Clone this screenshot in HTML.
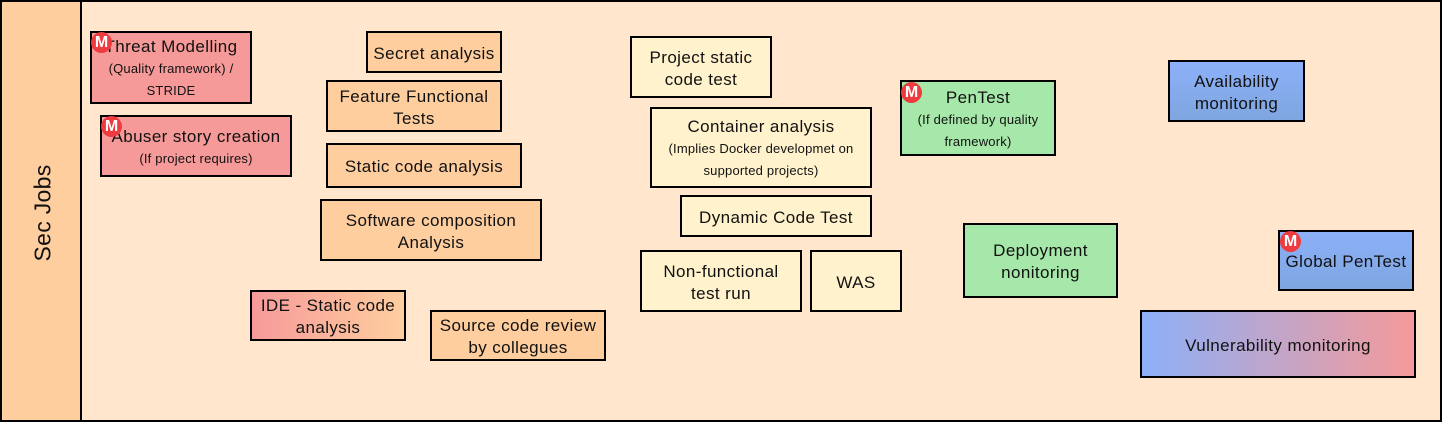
<!DOCTYPE html>
<html><head><meta charset="utf-8"><style>
*{margin:0;padding:0;box-sizing:border-box}
body{width:1442px;height:422px;background:#fff;position:relative;overflow:hidden;font-family:"Liberation Sans",Arial,sans-serif;color:#111}
.frame{position:absolute;left:0;top:0;width:1442px;height:422px;border:2px solid #000;background:#FFE6CC}
.band{position:absolute;left:0;top:0;width:82px;height:422px;background:#FFCE9F;border:2px solid #000}
.band span{position:absolute;left:41px;top:211px;transform:translate(-50%,-50%) rotate(-90deg);font-size:23px;white-space:nowrap;letter-spacing:0.3px}
.b{position:absolute;border:2px solid #000;display:flex;flex-direction:column;align-items:center;justify-content:center;text-align:center;font-size:17px;line-height:22px;letter-spacing:0.4px;padding-top:3px;white-space:nowrap}
.b small{font-size:13px;line-height:22px;letter-spacing:0.2px}
.r{background:#F69A99}.o{background:#FFCE9F}.y{background:#FFF2CC}.g{background:#A6E8A9}
.bl{background:linear-gradient(#8DB0F8,#7EA6E0)}
.m{position:absolute;width:21px;height:21px;border-radius:50%;background:#EE3B3F;color:#fff;font-weight:bold;font-size:16px;line-height:21px;text-align:center}
</style></head><body>
<div class="frame"></div>
<div class="band"><span>Sec Jobs</span></div>

<div class="b r" style="left:90px;top:31px;width:162px;height:73px">Threat Modelling<small>(Quality framework) /<br>STRIDE</small></div>
<div class="m" style="left:91px;top:32px">M</div>
<div class="b r" style="left:100px;top:115px;width:192px;height:62px">Abuser story creation<small>(If project requires)</small></div>
<div class="m" style="left:101px;top:116px">M</div>

<div class="b o" style="left:366px;top:31px;width:136px;height:42px">Secret analysis</div>
<div class="b o" style="left:326px;top:80px;width:176px;height:52px">Feature Functional<br>Tests</div>
<div class="b o" style="left:326px;top:143px;width:196px;height:45px">Static code analysis</div>
<div class="b o" style="left:320px;top:199px;width:222px;height:62px">Software composition<br>Analysis</div>
<div class="b" style="left:250px;top:290px;width:156px;height:51px;background:linear-gradient(90deg,#F69A99,#FFCE9F)">IDE - Static code<br>analysis</div>
<div class="b o" style="left:430px;top:310px;width:176px;height:51px">Source code review<br>by collegues</div>

<div class="b y" style="left:630px;top:36px;width:142px;height:62px">Project static<br>code test</div>
<div class="b y" style="left:650px;top:107px;width:222px;height:81px">Container analysis<small>(Implies Docker developmet on<br>supported projects)</small></div>
<div class="b y" style="left:680px;top:195px;width:192px;height:42px">Dynamic Code Test</div>
<div class="b y" style="left:640px;top:250px;width:162px;height:62px">Non-functional<br>test run</div>
<div class="b y" style="left:810px;top:250px;width:92px;height:62px">WAS</div>

<div class="b g" style="left:900px;top:80px;width:156px;height:76px">PenTest<small>(If defined by quality<br>framework)</small></div>
<div class="m" style="left:901px;top:82px">M</div>
<div class="b g" style="left:963px;top:223px;width:155px;height:75px">Deployment<br>nonitoring</div>

<div class="b bl" style="left:1168px;top:60px;width:137px;height:62px">Availability<br>monitoring</div>
<div class="b bl" style="left:1278px;top:230px;width:136px;height:61px">Global PenTest</div>
<div class="m" style="left:1280px;top:231px">M</div>
<div class="b" style="left:1140px;top:310px;width:276px;height:68px;background:linear-gradient(90deg,#8DB0F8,#F59A99)">Vulnerability monitoring</div>
</body></html>
